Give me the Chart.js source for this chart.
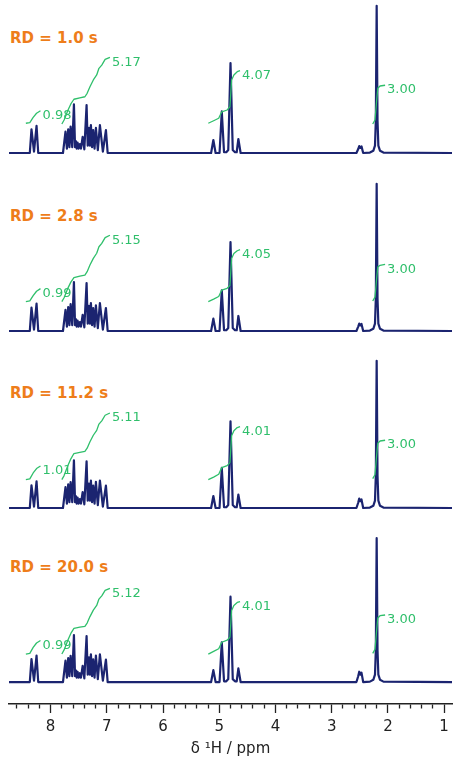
<!DOCTYPE html>
<html>
<head>
<meta charset="utf-8">
<script src="https://cdn.jsdelivr.net/npm/chart.js@4.4.1/dist/chart.umd.min.js"></script>
<style>
  body { margin: 0; background: #fff; }
  #wrap { position: relative; width: 461px; height: 758px; font-family: "DejaVu Sans", sans-serif; }
  #wrap canvas { position: absolute; left: 0; }
  .rd { position: absolute; left: 10px; height: 18px; line-height: 18px; font-size: 15px; font-weight: bold; color: #ee7d1a; white-space: nowrap; }
</style>
</head>
<body>
<div id="wrap"></div>
<script>
const rdTitles = ['RD = 1.0 s', 'RD = 2.8 s', 'RD = 11.2 s', 'RD = 20.0 s'];

// chemical shift (ppm) of every traced spectrum point
const shifts = [
  8.74, 8.37, 8.34, 8.295, 8.25, 8.22,
  7.78, 7.735, 7.71, 7.687, 7.665, 7.644, 7.615, 7.585, 7.565, 7.55, 7.535, 7.52, 7.50, 7.48, 7.46,
  7.43, 7.40, 7.36, 7.34, 7.318, 7.30, 7.283, 7.262, 7.242, 7.218, 7.194, 7.16, 7.123, 7.07, 7.016, 6.985,
  5.145, 5.105, 5.065, 4.995, 4.955, 4.915, 4.875, 4.84, 4.80, 4.76, 4.72, 4.69, 4.66, 4.62,
  2.56, 2.53, 2.51, 2.49, 2.47, 2.44,
  2.32, 2.26, 2.23, 2.215, 2.20, 2.185, 2.17, 2.14, 2.08, 0.86
];

// intensities (tallest peak = 100) for each relaxation delay
const spec1 = [
  0, 0, 16, 1, 18.5, 0,
  0, 14.5, 3, 16, 4, 18, 4, 33, 4, 8, 3, 7, 3, 6, 3,
  11, 2.5, 32.5, 5, 17, 5, 19, 4, 15.5, 3, 17, 2, 19, 1, 15.5, 0,
  0, 8.8, 0, 0, 28.2, 0.5, 0.5, 2, 61.1, 2, 0.5, 0.5, 9.5, 0,
  0, 2.5, 4.7, 3.5, 4.5, 0,
  0.3, 1.5, 5, 22, 100, 22, 5, 1.5, 0.3, 0
];
const spec2 = [
  0, 0, 15.9, 1, 18.6, 0,
  0, 14.3, 3, 16.2, 4, 18.2, 4, 33.2, 4, 8, 3, 7, 3, 6, 3,
  11, 2.5, 32.6, 5, 17, 5, 19, 4, 15.5, 3, 17.5, 2, 19, 1, 15.6, 0,
  0, 8.4, 0, 0, 27.6, 0.5, 0.5, 2, 60.4, 2, 0.5, 0.5, 10.2, 0,
  0, 2.8, 5, 3.8, 4.8, 0,
  0.3, 1.5, 5, 22, 100, 22, 5, 1.5, 0.3, 0
];
const spec3 = [
  0, 0, 15.4, 1, 18.1, 0,
  0, 14.2, 3, 16, 4, 17.6, 4, 32.4, 4, 8, 3, 7, 3, 6, 3,
  10.8, 2.5, 31.7, 5, 16.6, 5, 18.6, 4, 15.2, 3, 17.8, 2, 18.6, 1, 15.2, 0,
  0, 8.1, 0, 0, 27.2, 0.5, 0.5, 2, 58.9, 2, 0.5, 0.5, 9.1, 0,
  0, 3.4, 6.4, 4.6, 5.8, 0,
  0.3, 1.5, 5, 22, 100, 22, 5, 1.5, 0.3, 0
];
const spec4 = [
  0, 0, 15.6, 1, 17.9, 0,
  0, 14.6, 3, 16.2, 4, 17.8, 4, 31.9, 4, 8, 3, 7, 3, 6, 3,
  11, 2.5, 31.2, 5, 16.8, 5, 18.8, 4, 15.4, 3, 18, 2, 18.8, 1, 15.2, 0,
  0, 8.1, 0, 0, 27, 0.5, 0.5, 2, 57.9, 2, 0.5, 0.5, 9.3, 0,
  0, 3.8, 7, 5, 6.4, 0,
  0.3, 1.5, 5, 21.5, 97.6, 21.5, 5, 1.5, 0.3, 0
];
const spectra = [spec1, spec2, spec3, spec4];

// integral traces: shifts, then one row of heights per spectrum
const intAShift = [8.44, 8.37, 8.31, 8.25, 8.18];
const intA = [
  [20.2, 20.6, 24.2, 27, 28.7],
  [20, 20.4, 24, 27, 28.8],
  [19.3, 19.8, 23.8, 26.8, 28.5],
  [19, 19.5, 23.5, 26.5, 28.2]
];
const intBShift = [7.80, 7.76, 7.69, 7.64, 7.585, 7.48, 7.39, 7.35, 7.30, 7.24, 7.18, 7.14, 7.09, 7.03, 6.945];
const intB = [
  [19.7, 22.4, 29.2, 33.3, 36.5, 37.5, 38.2, 40.5, 45, 49.6, 53, 57.5, 59.7, 63.6, 65],
  [20, 22.6, 29.3, 33.2, 36.3, 37.3, 38, 40.3, 44.8, 49.3, 52.8, 57.2, 59.5, 63.4, 65],
  [19.3, 22, 29, 33.4, 37, 37.8, 38.4, 40.6, 45, 49.4, 52.7, 57, 59.2, 63, 64.5],
  [19, 21.8, 28.7, 33, 36.4, 37.2, 37.8, 40, 44.4, 48.8, 52, 56.3, 58.5, 62.2, 63.6]
];
const intCShift = [5.195, 5.10, 5.01, 4.955, 4.86, 4.81, 4.78, 4.74, 4.68, 4.63];
const intC = [
  [20.2, 21.9, 23.6, 28, 29.2, 31.4, 49.6, 53, 55.2, 55.9],
  [20, 21.6, 23.4, 27.8, 29, 31, 49.3, 52.6, 54.5, 55.2],
  [19.3, 21, 22.9, 27.4, 28.8, 30.8, 49, 52.5, 54.6, 55.2],
  [19, 20.8, 22.6, 27, 28.4, 30.4, 48.5, 52, 54, 54.6]
];
const intDShift = [2.27, 2.23, 2.20, 2.18, 2.14, 2.05];
const intD = [
  [19.7, 22.4, 36, 44, 45.5, 46],
  [20.4, 23, 36, 43.5, 44.6, 45.2],
  [20, 22.6, 36, 44, 45.5, 46],
  [19.5, 22.2, 35.5, 43.5, 45, 45.5]
];
const intLabels = [
  ['0.98', '5.17', '4.07', '3.00'],
  ['0.99', '5.15', '4.05', '3.00'],
  ['1.01', '5.11', '4.01', '3.00'],
  ['0.99', '5.12', '4.01', '3.00']
];

const xTicks = [8, 7, 6, 5, 4, 3, 2, 1];

const NAVY = '#1b2470';
const GREEN = '#2fbf6b';
const FONT = '"DejaVu Sans", sans-serif';

const panelTops = [0, 178, 355, 531];

const pairs = (xs, ys) => xs.map((x, i) => ({ x: x, y: ys[i] }));
const isWhole = v => Math.abs(v - Math.round(v)) < 1e-6;
const isMajor = v => xTicks.some(t => Math.abs(t - v) < 1e-6);

// writes the integral value next to the upper end of each integral trace
const integralLabels = {
  id: 'integralLabels',
  afterDatasetsDraw(chart) {
    const ctx = chart.ctx;
    const yScale = chart.scales.y;
    ctx.save();
    ctx.fillStyle = GREEN;
    ctx.font = '13px ' + FONT;
    ctx.textBaseline = 'middle';
    chart.data.datasets.forEach((ds, i) => {
      if (!ds.tag) return;
      const pts = chart.getDatasetMeta(i).data;
      const end = pts[pts.length - 1];
      const endVal = ds.data[ds.data.length - 1].y;
      ctx.fillText(ds.tag, end.x + 2, yScale.getPixelForValue(endVal - 3.3));
    });
    ctx.restore();
  }
};

const wrap = document.getElementById('wrap');

spectra.forEach((spec, k) => {
  const bottom = k === 3;

  const title = document.createElement('div');
  title.className = 'rd';
  title.textContent = rdTitles[k];
  title.style.top = (panelTops[k] + (bottom ? 151 : 153) - 115 - 9) + 'px';
  wrap.appendChild(title);

  const canvas = document.createElement('canvas');
  canvas.width = 461;
  canvas.height = bottom ? 227 : 177;
  canvas.style.top = panelTops[k] + 'px';
  wrap.appendChild(canvas);

  const integral = (xs, rows, n) => ({
    data: pairs(xs, rows[k]),
    tag: intLabels[k][n],
    borderColor: GREEN,
    borderWidth: 1.3,
    order: 1
  });

  const xAxis = {
    type: 'linear',
    display: bottom,
    reverse: true,
    min: 0.86,
    max: 8.74,
    border: { display: true, color: '#222', width: 1.5 },
    grid: {
      drawOnChartArea: false,
      drawTicks: true,
      tickLength: 9,
      tickWidth: 1.3,
      tickColor: '#222',
      tickBorderDash: c => (c.tick && isMajor(c.tick.value)) ? [] : [4, 30]
    },
    ticks: {
      stepSize: 0.2,
      includeBounds: false,
      autoSkip: false,
      maxRotation: 0,
      padding: 5,
      color: '#222',
      font: { family: FONT, size: 15 },
      callback: v => isMajor(v) ? String(Math.round(v)) : ''
    },
    title: {
      display: true,
      text: 'δ ¹H / ppm',
      color: '#222',
      font: { family: FONT, size: 15 },
      padding: { top: 0, bottom: 0 }
    }
  };
  if (bottom) {
    xAxis.afterBuildTicks = s => {
      s.ticks = s.ticks.filter(t => isWhole(t.value * 5));
    };
    xAxis.afterFit = s => { s.height = 54; };
  }

  new Chart(canvas, {
    type: 'line',
    data: {
      datasets: [
        { data: pairs(shifts, spec), borderColor: NAVY, borderWidth: 2.2, order: 2 },
        integral(intAShift, intA, 0),
        integral(intBShift, intB, 1),
        integral(intCShift, intC, 2),
        integral(intDShift, intD, 3)
      ]
    },
    options: {
      responsive: false,
      animation: false,
      events: [],
      layout: { padding: { left: 9, right: 9, top: 0, bottom: 0 } },
      elements: { point: { radius: 0 }, line: { tension: 0, borderJoinStyle: 'round' } },
      plugins: { legend: { display: false }, tooltip: { enabled: false } },
      scales: {
        y: { display: false, min: bottom ? -14.9 : -16.3, max: bottom ? 102.5 : 103.9 },
        x: xAxis
      }
    },
    plugins: [integralLabels]
  });
});
</script>
</body>
</html>
